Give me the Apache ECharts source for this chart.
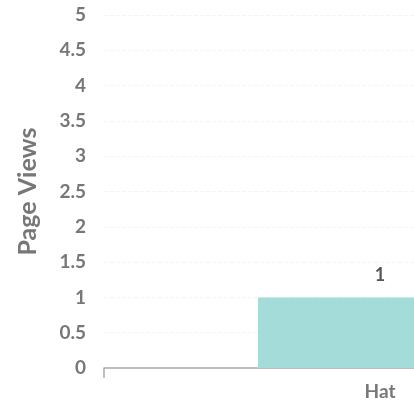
<!DOCTYPE html>
<html>
<head>
<meta charset="utf-8">
<script src="https://cdn.jsdelivr.net/npm/echarts@6/dist/echarts.min.js"></script>
<style>
  html, body { margin: 0; padding: 0; background: #fff; overflow: hidden; width: 414px; height: 411px; }
  /* chart is wider than the window; the right part is cut off like the reference */
  #chart { width: 700px; height: 411px; }
</style>
</head>
<body>
<div id="chart"></div>
<script>
const categories = ['Hat'];
const pageViews = [1];
const yTicks = { min: 0, max: 5, interval: 0.5 };

const chart = echarts.init(document.getElementById('chart'));

const option = {
    animation: false,
    textStyle: { fontFamily: 'Lato' },
    grid: {
        left: 104,
        width: 552,
        top: 15,
        bottom: 43,
    },
    xAxis: {
        type: 'category',
        data: categories,
        axisLine: {
            show: true,
            lineStyle: { color: '#aaa', width: 1.5 },
        },
        axisTick: {
            show: true,
            length: 10,
            lineStyle: { color: '#aaa', width: 1.5 },
        },
        axisLabel: {
            color: '#777',
            fontWeight: 'bold',
            fontSize: 19,
            margin: 14,
        },
    },
    yAxis: {
        type: 'value',
        min: yTicks.min,
        max: yTicks.max,
        interval: yTicks.interval,
        name: 'Page Views',
        nameLocation: 'middle',
        nameGap: 64,
        nameTextStyle: {
            color: '#777',
            fontWeight: 'bold',
            fontSize: 25,
        },
        axisLine: { show: false },
        axisTick: { show: false },
        axisLabel: {
            color: '#777',
            fontWeight: 'bold',
            fontSize: 19,
            margin: 18,
        },
        splitLine: {
            show: true,
            lineStyle: { color: '#f4f4f4', type: 'dashed', width: 1 },
        },
    },
    series: [
        {
            type: 'bar',
            data: pageViews,
            barWidth: 244,
            itemStyle: { color: '#a3dcd9' },
            label: {
                show: true,
                position: 'top',
                distance: 13,
                color: '#555',
                fontWeight: 'bold',
                fontSize: 18,
            },
        },
    ],
};

chart.setOption(option);
</script>
</body>
</html>
